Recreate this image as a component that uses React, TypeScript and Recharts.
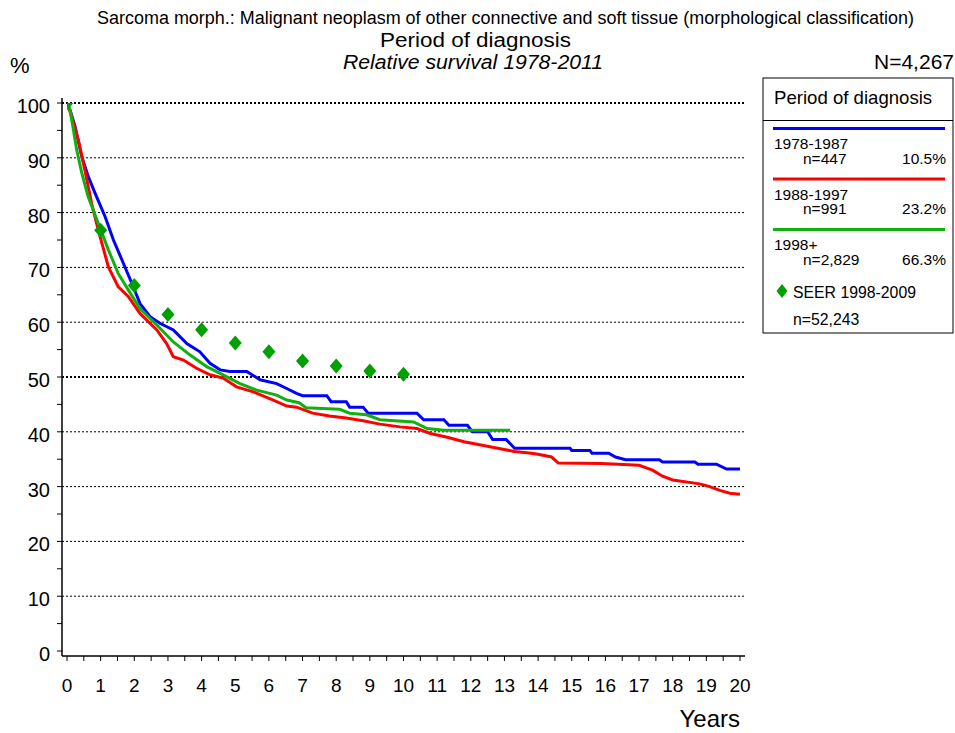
import {
  ComposedChart,
  Line,
  Scatter,
  XAxis,
  YAxis,
  ReferenceLine,
} from "recharts";

// values (years since diagnosis, relative survival %)
const blueYears = [0, 0.09, 0.24, 0.44, 0.63, 0.83, 1.13, 1.38, 1.63, 1.92, 2.17, 2.47, 2.76, 3.16, 3.56, 3.95, 4.25, 4.55, 4.84, 5.34, 5.74, 6.23, 6.53, 6.82, 7.0, 7.72, 7.85, 8.3, 8.4, 8.8, 8.95, 10.4, 10.6, 11.2, 11.35, 11.9, 12.05, 12.5, 12.65, 13.05, 13.3, 14.95, 15.0, 15.54, 15.6, 16.1, 16.3, 16.6, 17.6, 17.7, 18.66, 18.75, 19.3, 19.6, 20];
const blueValues = [100, 98.7, 95.7, 90.2, 86.6, 83.6, 79.3, 75.0, 71.4, 67.2, 63.4, 61.0, 59.8, 58.6, 56.1, 54.6, 52.5, 51.3, 51.0, 51.0, 49.5, 48.8, 47.9, 47.0, 46.6, 46.6, 45.5, 45.5, 44.5, 44.5, 43.4, 43.4, 42.2, 42.2, 41.2, 41.2, 40.0, 40.0, 38.6, 38.6, 37.0, 37.0, 36.6, 36.6, 36.1, 36.1, 35.4, 34.9, 34.9, 34.5, 34.5, 34.1, 34.1, 33.2, 33.2];

const redYears = [0, 0.14, 0.34, 0.53, 0.73, 0.93, 1.23, 1.52, 1.82, 2.17, 2.67, 2.96, 3.16, 3.46, 3.85, 4.25, 4.64, 5.04, 5.54, 6.13, 6.53, 6.82, 7.3, 7.8, 8.3, 8.8, 9.3, 9.9, 10.4, 10.8, 11.3, 11.8, 12.3, 12.8, 13.3, 13.8, 14.0, 14.4, 14.6, 15.9, 17.0, 17.4, 17.7, 18.0, 18.8, 19.1, 19.4, 19.7, 20];
const redValues = [100, 97.5, 93.2, 87.8, 81.7, 76.8, 70.1, 66.5, 64.7, 61.6, 58.6, 56.1, 53.7, 53.1, 51.6, 50.4, 49.8, 48.2, 47.3, 45.8, 44.7, 44.5, 43.4, 42.9, 42.5, 42.0, 41.4, 40.9, 40.6, 39.7, 39.0, 38.2, 37.6, 37.0, 36.4, 36.1, 35.9, 35.4, 34.3, 34.2, 33.9, 33.0, 31.9, 31.2, 30.5, 30.0, 29.3, 28.8, 28.6];

const greenYears = [0, 0.09, 0.19, 0.29, 0.44, 0.63, 0.93, 1.23, 1.52, 1.82, 2.17, 2.67, 3.16, 3.66, 4.15, 4.64, 5.14, 5.64, 6.23, 6.53, 6.9, 7.1, 8.1, 8.4, 8.9, 9.3, 10.3, 10.7, 11.2, 13.17];
const greenValues = [100, 98.7, 95.1, 91.4, 87.2, 82.9, 78.0, 73.2, 68.9, 65.9, 62.5, 59.5, 56.4, 54.0, 51.9, 50.4, 48.8, 47.6, 46.7, 45.8, 45.3, 44.4, 44.1, 43.4, 43.1, 42.2, 41.8, 40.6, 40.3, 40.3];

const seerYears = [0, 1, 2, 3, 4, 5, 6, 7, 8, 9, 10];
const seerValues = [100, 76.8, 66.7, 61.4, 58.6, 56.2, 54.6, 52.9, 52.0, 51.1, 50.5];

const xTicks = Array.from({ length: 41 }, (_, i) => i / 2);
const yTicks = Array.from({ length: 21 }, (_, i) => i * 5);
const gridValues = [10, 20, 30, 40, 50, 60, 70, 80, 90, 100];

const legendItems = [
  { label: "1978-1987", n: "n=447", pct: "10.5%", color: "#0000ff" },
  { label: "1988-1997", n: "n=991", pct: "23.2%", color: "#ff0000" },
  { label: "1998+", n: "n=2,829", pct: "66.3%", color: "#11b011" },
];

const BLUE = "#0000ff";
const RED = "#ff0000";
const GREEN = "#11b011";
const SEER_GREEN = "#00a000";
const FONT = "'Liberation Sans', Arial, sans-serif";

const toRows = (xs: number[], ys: number[]) => xs.map((x, i) => ({ x, y: ys[i] }));

const blueData = toRows(blueYears, blueValues);
const redData = toRows(redYears, redValues);
const greenData = toRows(greenYears, greenValues);
const seerData = toRows(seerYears, seerValues);

function XTick(props: any) {
  const { x, y, payload } = props;
  if (!Number.isInteger(payload.value)) return null;
  return (
    <text x={x} y={y + 29} textAnchor="middle" fontSize={19} fontFamily={FONT} fill="#000">
      {payload.value}
    </text>
  );
}

function YTick(props: any) {
  const { x, y, payload } = props;
  if (payload.value % 10 !== 0) return null;
  return (
    <text x={x - 5} y={y + 10} textAnchor="end" fontSize={20} fontFamily={FONT} fill="#000">
      {payload.value}
    </text>
  );
}

function Diamond(props: any) {
  const { cx, cy } = props;
  if (cx == null || cy == null) return null;
  return (
    <polygon
      points={`${cx},${cy - 7.5} ${cx + 6.5},${cy} ${cx},${cy + 7.5} ${cx - 6.5},${cy}`}
      fill={SEER_GREEN}
    />
  );
}

function Overlay() {
  return (
    <svg
      width={955}
      height={733}
      style={{ position: "absolute", left: 0, top: 0, pointerEvents: "none" }}
      fontFamily={FONT}
    >
      <text x={97} y={24} fontSize={18} textLength={817} lengthAdjust="spacingAndGlyphs">
        Sarcoma morph.: Malignant neoplasm of other connective and soft tissue (morphological classification)
      </text>
      <text x={380} y={47} fontSize={20} textLength={191} lengthAdjust="spacingAndGlyphs">
        Period of diagnosis
      </text>
      <text x={343} y={69} fontSize={20} fontStyle="italic" textLength={260} lengthAdjust="spacingAndGlyphs">
        Relative survival 1978-2011
      </text>
      <text x={10} y={73} fontSize={22}>
        %
      </text>
      <text x={954} y={69} textAnchor="end" fontSize={21}>
        N=4,267
      </text>
      <text x={740} y={727} textAnchor="end" fontSize={24}>
        Years
      </text>

      {/* legend box */}
      <rect x={763} y={78} width={190} height={255} fill="#fff" stroke="#000" strokeWidth={1} />
      <text x={774} y={104} fontSize={18.6}>
        Period of diagnosis
      </text>
      <line x1={763} x2={953} y1={120.5} y2={120.5} stroke="#000" strokeWidth={1} />
      {legendItems.map((it, i) => {
        const top = 128.5 + i * 50.5;
        return (
          <g key={it.label}>
            <line x1={773} x2={945} y1={top} y2={top} stroke={it.color} strokeWidth={3} />
            <text x={774} y={top + 20.5} fontSize={15.5}>
              {it.label}
            </text>
            <text x={803} y={top + 35} fontSize={15.5}>
              {it.n}
            </text>
            <text x={946} y={top + 35} fontSize={15.5} textAnchor="end">
              {it.pct}
            </text>
          </g>
        );
      })}
      <polygon points="782,284 787.5,291 782,298 776.5,291" fill={SEER_GREEN} />
      <text x={793} y={298} fontSize={15.8}>
        SEER 1998-2009
      </text>
      <text x={793} y={325} fontSize={15.8}>
        n=52,243
      </text>
    </svg>
  );
}

export default function App() {
  return (
    <div
      style={{
        position: "absolute",
        left: 0,
        top: 0,
        width: 955,
        height: 733,
        background: "#fff",
        fontFamily: FONT,
      }}
    >
      <ComposedChart
        width={955}
        height={733}
        margin={{ top: 98, right: 210, bottom: 37, left: 0 }}
      >
        <XAxis
          type="number"
          dataKey="x"
          domain={[0, 20]}
          ticks={xTicks}
          interval={0}
          tick={<XTick />}
          tickSize={5}
          height={40}
          padding={{ left: 5, right: 5 }}
          axisLine={{ stroke: "#000", strokeWidth: 1.5 }}
          tickLine={{ stroke: "#000" }}
          allowDataOverflow
        />
        <YAxis
          type="number"
          dataKey="y"
          domain={[0, 100]}
          ticks={yTicks}
          interval={0}
          tick={<YTick />}
          tickSize={5}
          width={62}
          padding={{ top: 5, bottom: 5 }}
          axisLine={{ stroke: "#000", strokeWidth: 1.5 }}
          tickLine={{ stroke: "#000" }}
          allowDataOverflow
        />
        {gridValues.map((v) => (
          <ReferenceLine
            key={v}
            y={v}
            stroke="#000"
            strokeWidth={v === 50 || v === 100 ? 2 : 1}
            strokeDasharray="2 2"
          />
        ))}
        <Line
          data={blueData}
          dataKey="y"
          type="linear"
          stroke={BLUE}
          strokeWidth={3}
          dot={false}
          isAnimationActive={false}
        />
        <Line
          data={redData}
          dataKey="y"
          type="linear"
          stroke={RED}
          strokeWidth={3}
          dot={false}
          isAnimationActive={false}
        />
        <Line
          data={greenData}
          dataKey="y"
          type="linear"
          stroke={GREEN}
          strokeWidth={3}
          dot={false}
          isAnimationActive={false}
        />
        <Scatter
          data={seerData}
          dataKey="y"
          shape={<Diamond />}
          isAnimationActive={false}
        />
      </ComposedChart>
      <Overlay />
    </div>
  );
}
